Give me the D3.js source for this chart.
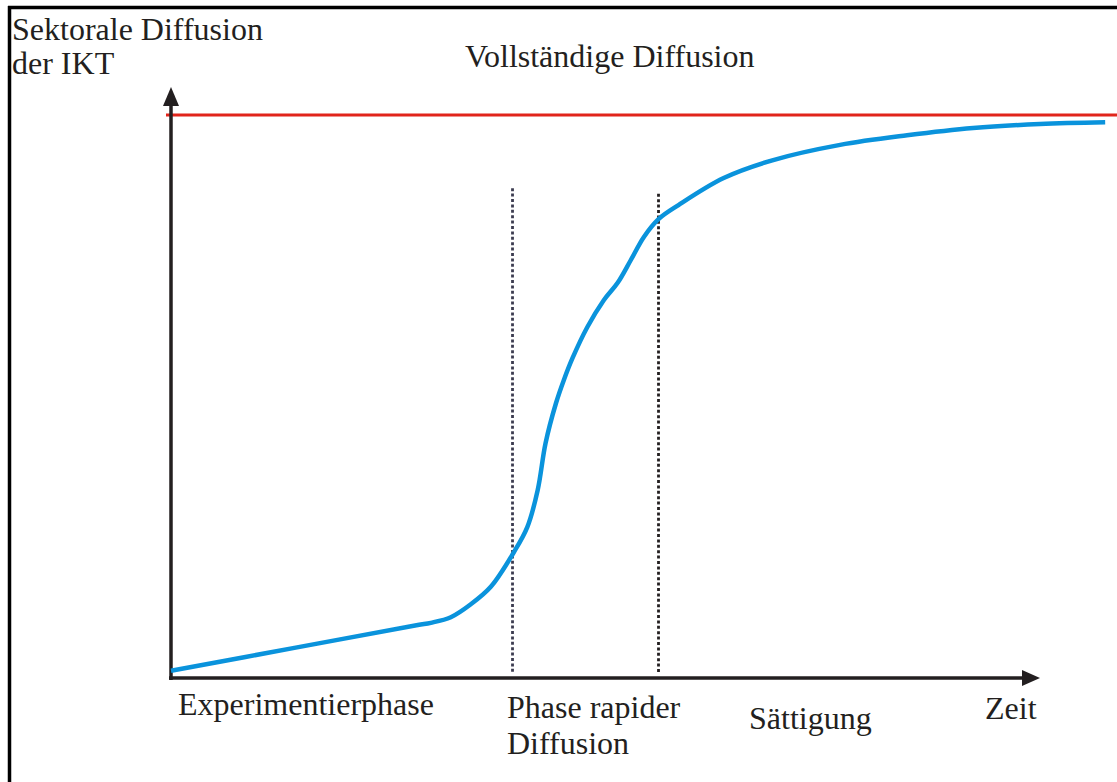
<!DOCTYPE html>
<html>
<head>
<meta charset="utf-8">
<script src="https://cdn.jsdelivr.net/npm/d3@7"></script>
<style>
  html, body { margin: 0; padding: 0; background: #fff; }
  svg { display: block; }
  text { font-family: "Liberation Serif", "Times New Roman", serif; fill: #231f20; }
</style>
</head>
<body>
<svg id="chart" width="1117" height="782"></svg>
<script>
// ---- data ----
const yTitle = ["Sektorale Diffusion", "der IKT"];
const saturationLabel = "Vollständige Diffusion";
const xTitle = "Zeit";
const phaseLabels = [["Experimentierphase"], ["Phase rapider", "Diffusion"], ["Sättigung"]];
const saturationLevel = 100;
// diffusion curve (time, diffusion)
const curveT = [0, 14.2, 28.4, 29.9, 32.2, 34.5, 36.8, 39.4, 41.0, 42.2, 43.1, 44.3, 45.2, 46.2, 47.9, 49.8, 51.4, 52.9, 54.4, 56.1, 58.4, 63.6, 69.3, 77.0, 84.7, 92.3, 100, 107.5];
const curveD = [1.3, 5.35, 9.4, 9.8, 10.8, 13.1, 16.2, 22.2, 26.8, 33.4, 41.7, 48.8, 52.9, 56.8, 62.3, 67.1, 70.2, 74.2, 78.3, 81.5, 84.0, 88.8, 92.0, 94.7, 96.4, 97.7, 98.4, 98.7];
// phase boundaries (time) and their top (diffusion)
const boundaryT = [39.3, 56.1];
const boundaryTop = [87.0, 86.0];

// ---- scales ----
const x = d3.scaleLinear().domain([0, 100]).range([171, 1040]);
const y = d3.scaleLinear().domain([0, 100]).range([678, 115]);

const svg = d3.select("#chart");
const ink = "#231f20";

// frame (top and left edges)
svg.append("line").attr("x1", 8).attr("x2", 1117).attr("y1", 7.5).attr("y2", 7.5)
  .attr("stroke", "#000").attr("stroke-width", 3.5);
svg.append("line").attr("x1", 9.5).attr("x2", 9.5).attr("y1", 6).attr("y2", 782)
  .attr("stroke", "#000").attr("stroke-width", 3.5);

// saturation line
svg.append("line")
  .attr("x1", x(0) - 5).attr("x2", 1117)
  .attr("y1", y(saturationLevel)).attr("y2", y(saturationLevel))
  .attr("stroke", "#e1251b").attr("stroke-width", 3);

// phase boundaries
const bColors = ["#3c3c50", ink];
boundaryT.forEach((t, i) => {
  svg.append("line")
    .attr("x1", x(t)).attr("x2", x(t))
    .attr("y1", y(boundaryTop[i])).attr("y2", y(0) - 5)
    .attr("stroke", bColors[i]).attr("stroke-width", 2.8)
    .attr("stroke-dasharray", "3,2.4");
});

// axes with arrowheads
const x0 = x(0), y0 = y(0);
svg.append("line").attr("x1", x0).attr("x2", x0).attr("y1", y0 + 2).attr("y2", 100)
  .attr("stroke", ink).attr("stroke-width", 3.5);
svg.append("path").attr("d", `M${x0},87 L${x0 - 8},106 L${x0 + 8},106 Z`).attr("fill", ink);
svg.append("line").attr("x1", x0 - 2).attr("x2", x(100) - 14).attr("y1", y0).attr("y2", y0)
  .attr("stroke", ink).attr("stroke-width", 3.5);
svg.append("path").attr("d", `M${x(100)},${y0} L${x(100) - 18},${y0 - 8} L${x(100) - 18},${y0 + 8} Z`).attr("fill", ink);

// diffusion curve
const pts = curveT.map((t, i) => [t, curveD[i]]);
const line = d3.line().x(d => x(d[0])).y(d => y(d[1])).curve(d3.curveCatmullRom.alpha(0.5));
svg.append("path").datum(pts).attr("d", line)
  .attr("fill", "none").attr("stroke", "#0a93dc").attr("stroke-width", 4.5)
  .attr("stroke-linecap", "butt");

// texts
const fs = "32px";
yTitle.forEach((s, i) => {
  svg.append("text").attr("x", 12).attr("y", 40 + i * 34).attr("font-size", fs).text(s);
});
svg.append("text").attr("x", 465).attr("y", 67).attr("font-size", fs).text(saturationLabel);
svg.append("text").attr("x", 985).attr("y", 719).attr("font-size", fs).text(xTitle);

const labelPos = [[178, 715], [507, 718], [749, 729]];
phaseLabels.forEach((lines, i) => {
  lines.forEach((s, j) => {
    svg.append("text").attr("x", labelPos[i][0]).attr("y", labelPos[i][1] + j * 36)
      .attr("font-size", fs).text(s);
  });
});
</script>
</body>
</html>
